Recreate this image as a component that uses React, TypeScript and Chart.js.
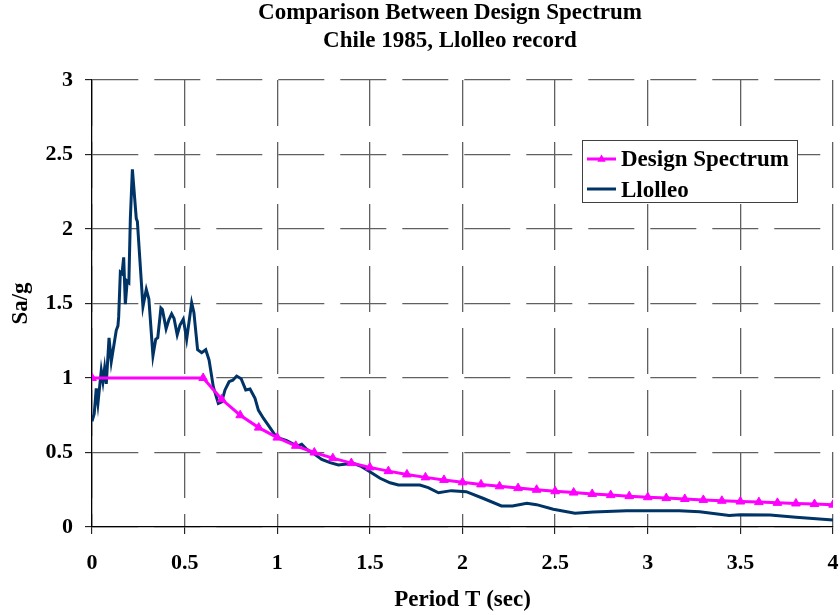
import React, { useEffect, useRef } from "react";
import { Chart, registerables } from "chart.js";

Chart.register(...registerables);

// ---- Data ----
const titleLines = ["Comparison Between Design Spectrum", "Chile 1985, Llolleo record"];
const xAxisTitle = "Period T (sec)";
const yAxisTitle = "Sa/g";

const xTickValues = [0, 0.5, 1, 1.5, 2, 2.5, 3, 3.5, 4];
const yTickValues = [0, 0.5, 1, 1.5, 2, 2.5, 3];

const designLabel = "Design Spectrum";
const designT = [
  0, 0.6, 0.7, 0.8, 0.9, 1.0, 1.1, 1.2, 1.3, 1.4, 1.5, 1.6, 1.7, 1.8, 1.9, 2.0, 2.1, 2.2,
  2.3, 2.4, 2.5, 2.6, 2.7, 2.8, 2.9, 3.0, 3.1, 3.2, 3.3, 3.4, 3.5, 3.6, 3.7, 3.8, 3.9, 4.0,
];
const designSa = [
  1, 1, 0.857, 0.75, 0.667, 0.6, 0.545, 0.5, 0.462, 0.429, 0.4, 0.375, 0.353, 0.333, 0.316,
  0.3, 0.286, 0.273, 0.261, 0.25, 0.24, 0.231, 0.222, 0.214, 0.207, 0.2, 0.194, 0.188,
  0.182, 0.176, 0.171, 0.167, 0.162, 0.158, 0.154, 0.15,
];

const llolleoLabel = "Llolleo";
const llolleoT = [
  0.0, 0.012, 0.023, 0.032, 0.05, 0.059, 0.068, 0.077, 0.092, 0.104, 0.131, 0.14, 0.144,
  0.153, 0.162, 0.171, 0.18, 0.19, 0.199, 0.207, 0.218, 0.239, 0.245, 0.275, 0.293, 0.307,
  0.329, 0.344, 0.355, 0.372, 0.38, 0.4, 0.415, 0.43, 0.443, 0.46, 0.475, 0.493, 0.511,
  0.538, 0.55, 0.57, 0.592, 0.614, 0.632, 0.655, 0.682, 0.7, 0.718, 0.74, 0.76, 0.781,
  0.805, 0.83, 0.853, 0.88, 0.898, 0.925, 0.957, 0.988, 1.015, 1.051, 1.087, 1.11, 1.132,
  1.159, 1.195, 1.24, 1.285, 1.33, 1.375, 1.41, 1.456, 1.5, 1.555, 1.609, 1.654, 1.734,
  1.77, 1.815, 1.87, 1.94, 2.02, 2.11, 2.21, 2.27, 2.347, 2.4, 2.49, 2.607, 2.706, 2.886,
  3.03, 3.17, 3.28, 3.44, 3.5, 3.66, 3.8, 4.0,
];
const llolleoSa = [
  0.71, 0.76, 0.93, 0.83, 1.05, 0.975, 1.065, 0.96, 1.27, 1.11, 1.32, 1.35, 1.41, 1.71,
  1.7, 1.81, 1.495, 1.65, 1.64, 2.07, 2.4, 2.07, 2.05, 1.48, 1.595, 1.53, 1.15, 1.26, 1.27,
  1.47, 1.46, 1.33, 1.39, 1.43, 1.4, 1.29, 1.355, 1.395, 1.26, 1.505, 1.44, 1.19, 1.17,
  1.19, 1.12, 0.94, 0.83, 0.84, 0.92, 0.975, 0.985, 1.013, 0.995, 0.92, 0.926, 0.864,
  0.785, 0.73, 0.673, 0.617, 0.595, 0.579, 0.557, 0.545, 0.555, 0.521, 0.494, 0.454,
  0.432, 0.416, 0.423, 0.427, 0.405, 0.371, 0.327, 0.297, 0.282, 0.282, 0.282, 0.264,
  0.23, 0.244, 0.237, 0.193, 0.141, 0.141, 0.159, 0.15, 0.119, 0.092, 0.101, 0.109, 0.109,
  0.109, 0.103, 0.078, 0.083, 0.081, 0.065, 0.047,
];

// ---- Styles ----
const FONT = "'Liberation Serif', 'Times New Roman', serif";
const DESIGN_COLOR = "#FF00FF";
const LLOLLEO_COLOR = "#003366";
const GRID_COLOR = "#606060";

const titlePlugin = {
  id: "customTitle",
  afterDraw(chart: any) {
    const ctx = chart.ctx;
    ctx.save();
    ctx.fillStyle = "#000";
    ctx.font = `bold 23px ${FONT}`;
    ctx.textAlign = "center";
    ctx.textBaseline = "alphabetic";
    ctx.fillText(titleLines[0], 450, 18.5);
    ctx.fillText(titleLines[1], 450, 46.5);
    ctx.restore();
  },
};

const legendPlugin = {
  id: "customLegend",
  afterDraw(chart: any) {
    const ctx = chart.ctx;
    const x = 582, y = 140, w = 215, h = 62;
    ctx.save();
    ctx.fillStyle = "#fff";
    ctx.fillRect(x, y, w, h);
    ctx.strokeStyle = "#404040";
    ctx.lineWidth = 1;
    ctx.strokeRect(x + 0.5, y + 0.5, w, h);
    const rows = [
      { ds: chart.data.datasets[0], ly: 159, ty: 165.5 },
      { ds: chart.data.datasets[1], ly: 189, ty: 196.5 },
    ];
    rows.forEach((r, i) => {
      ctx.strokeStyle = r.ds.borderColor;
      ctx.lineWidth = 3;
      ctx.beginPath();
      ctx.moveTo(587, r.ly);
      ctx.lineTo(616, r.ly);
      ctx.stroke();
      if (i === 0) {
        ctx.fillStyle = r.ds.pointBackgroundColor;
        const cx = 601.5, cy = r.ly, s = 4.5;
        ctx.beginPath();
        ctx.moveTo(cx, cy - s);
        ctx.lineTo(cx + s * 0.95, cy + s * 0.6);
        ctx.lineTo(cx - s * 0.95, cy + s * 0.6);
        ctx.closePath();
        ctx.fill();
      }
      ctx.fillStyle = "#000";
      ctx.font = `bold 23px ${FONT}`;
      ctx.textAlign = "left";
      ctx.textBaseline = "alphabetic";
      ctx.fillText(r.ds.label, 621, r.ty);
    });
    ctx.restore();
  },
};

export default function App() {
  const canvasRef = useRef<HTMLCanvasElement | null>(null);

  useEffect(() => {
    const canvas = canvasRef.current;
    if (!canvas) return;
    const designData = designT.map((t, i) => ({ x: t, y: designSa[i] }));
    const llolleoData = llolleoT.map((t, i) => ({ x: t, y: llolleoSa[i] }));

    const chart = new Chart(canvas, {
      type: "line",
      data: {
        datasets: [
          {
            label: designLabel,
            data: designData,
            borderColor: DESIGN_COLOR,
            backgroundColor: DESIGN_COLOR,
            pointBackgroundColor: DESIGN_COLOR,
            pointBorderColor: DESIGN_COLOR,
            pointStyle: "triangle",
            pointRadius: 5,
            pointBorderWidth: 1,
            borderWidth: 3,
            tension: 0,
            fill: false,
            order: 1,
          },
          {
            label: llolleoLabel,
            data: llolleoData,
            borderColor: LLOLLEO_COLOR,
            backgroundColor: LLOLLEO_COLOR,
            pointRadius: 0,
            borderWidth: 3,
            tension: 0,
            fill: false,
            order: 2,
          },
        ],
      },
      options: {
        responsive: false,
        devicePixelRatio: 1,
        animation: false,
        layout: { padding: { top: 80, right: 7, bottom: 0, left: 0 } },
        plugins: {
          legend: { display: false },
          title: { display: false },
          tooltip: { enabled: false },
        },
        scales: {
          x: {
            type: "linear",
            min: 0,
            max: 4,
            afterBuildTicks: (scale: any) => {
              scale.ticks = xTickValues.map((v) => ({ value: v }));
            },
            afterFit: (scale: any) => {
              scale.height = 88;
              scale.paddingLeft = 0;
              scale.paddingRight = 0;
            },
            ticks: {
              color: "#000",
              font: { family: FONT, size: 22, weight: "bold" },
              padding: 16,
              maxRotation: 0,
              callback: (v: any) => String(v),
            },
            grid: {
              color: GRID_COLOR,
              lineWidth: 1.3,
              tickLength: 7,
              tickColor: "#000",
              tickWidth: 1,
            },
            border: { display: true, color: "#000", width: 1.3, dash: [46, 16] },
            title: {
              display: true,
              text: xAxisTitle,
              color: "#000",
              font: { family: FONT, size: 23, weight: "bold" },
              padding: { top: 0, bottom: 1 },
            },
          },
          y: {
            type: "linear",
            min: 0,
            max: 3,
            afterBuildTicks: (scale: any) => {
              scale.ticks = yTickValues.map((v) => ({ value: v }));
            },
            afterFit: (scale: any) => {
              scale.width = 92;
              scale.paddingTop = 0;
              scale.paddingBottom = 0;
            },
            ticks: {
              color: "#000",
              font: { family: FONT, size: 22, weight: "bold" },
              padding: 12,
              callback: (v: any) => String(v),
            },
            grid: {
              color: GRID_COLOR,
              lineWidth: 1.3,
              tickLength: 7,
              tickColor: "#000",
              tickWidth: 1,
            },
            border: { display: true, color: "#000", width: 1.3, dash: [46, 16] },
            title: {
              display: true,
              text: yAxisTitle,
              color: "#000",
              font: { family: FONT, size: 23, weight: "bold" },
              padding: { top: 7, bottom: 0 },
            },
          },
        },
      },
      plugins: [titlePlugin, legendPlugin],
    } as any);

    return () => chart.destroy();
  }, []);

  return (
    <div style={{ position: "absolute", left: 0, top: 0, width: 840, height: 615, background: "#fff" }}>
      <canvas ref={canvasRef} width={840} height={615} style={{ width: 840, height: 615, display: "block" }} />
    </div>
  );
}
